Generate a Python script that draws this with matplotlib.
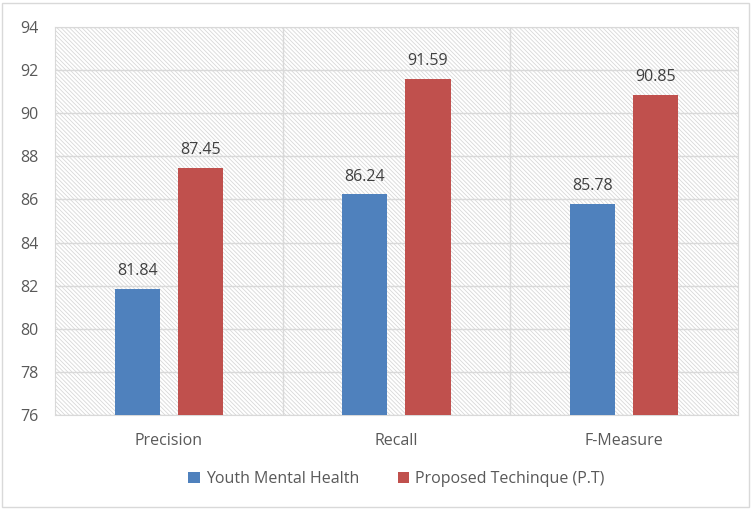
import matplotlib.pyplot as plt
import numpy as np
from matplotlib.patches import Rectangle

categories = ['Precision', 'Recall', 'F-Measure']
youth = [81.84, 86.24, 85.78]
proposed = [87.45, 91.59, 90.85]
series_names = ['Youth Mental Health', 'Proposed Techinque (P.T)']

BLUE = '#4F81BD'
RED = '#C0504D'
TXT = '#595959'
GRID = '#d9d9d9'

plt.rcParams['font.family'] = ['Open Sans', 'DejaVu Sans']
plt.rcParams['hatch.linewidth'] = 0.6

fig = plt.figure(figsize=(7.51, 5.09), dpi=100, facecolor='white')
fig.patches.append(Rectangle((0.003, 0.004), 0.994, 0.99, transform=fig.transFigure,
                             facecolor='none', edgecolor=GRID, linewidth=1))
ax = fig.add_axes([0.0732, 0.1847, 0.9095, 0.7623])
ax.patch.set_alpha(0)

x = np.arange(len(categories))
w = 0.198
# hatched plot area background
ax.add_patch(Rectangle((0, 0), 1, 1, transform=ax.transAxes, facecolor='white',
                       edgecolor='#d8d8d8', linewidth=0, hatch='\\' * 8, zorder=0))
b1 = ax.bar(x - 0.1385, youth, w, color=BLUE, label=series_names[0], zorder=3)
b2 = ax.bar(x + 0.1385, proposed, w, color=RED, label=series_names[1], zorder=3)

for bars, vals in ((b1, youth), (b2, proposed)):
    for r, v in zip(bars, vals):
        ax.text(r.get_x() + r.get_width() / 2, v + 0.45, f'{v:.2f}', ha='center',
                va='bottom', fontsize=11.5, color='#404040')

ax.set_xlim(-0.5, 2.5)
ax.set_ylim(76, 94)
ax.set_yticks(np.arange(76, 95, 2))
ax.set_xticks(x)
ax.set_xticklabels(categories)
ax.tick_params(axis='both', length=0, labelsize=11.5, colors=TXT)
ax.tick_params(axis='x', pad=13)
ax.tick_params(axis='y', pad=12)
for t in np.arange(76, 95, 2):
    ax.axhline(t, color=GRID, linewidth=1, zorder=1)
for xv in (0.5, 1.5):
    ax.axvline(xv, color=GRID, linewidth=1, zorder=1)
for s in ax.spines.values():
    s.set_color(GRID)

ax.legend(loc='center', bbox_to_anchor=(0.5, -0.165), ncol=2, frameon=False,
          fontsize=11.5, labelcolor=TXT, handlelength=0.7, handleheight=0.7,
          columnspacing=2.4, handletextpad=0.4)

fig.savefig('out.png', dpi=100)
